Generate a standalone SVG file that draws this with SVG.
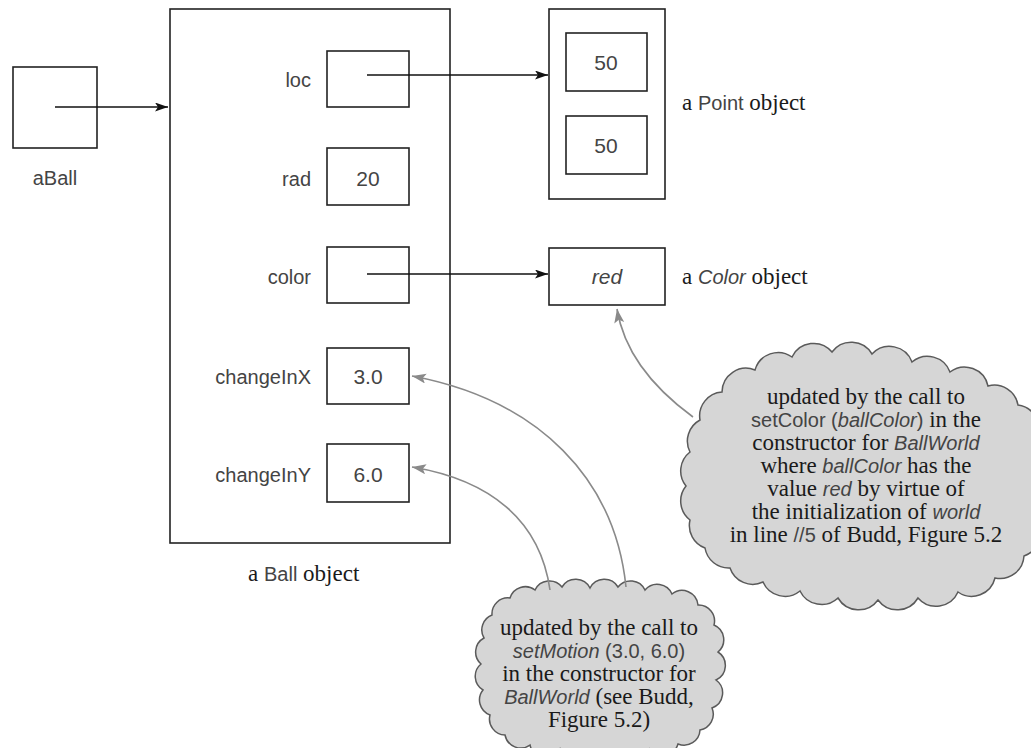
<svg xmlns="http://www.w3.org/2000/svg" width="1031" height="748" viewBox="0 0 1031 748">
<style>
.box{fill:none;stroke:#222;stroke-width:1.6}
.hw{font-family:"Liberation Sans",Arial,sans-serif;font-size:20px;fill:#444}
.hwv{font-family:"Liberation Sans",Arial,sans-serif;font-size:21px;fill:#444;text-anchor:middle}
.tm{font-family:"Liberation Serif","Times New Roman",serif;font-size:23px;fill:#1a1a1a}
.ct{font-family:"Liberation Serif","Times New Roman",serif;font-size:23px;fill:#1a1a1a;text-anchor:middle}
.cd{font-family:"Liberation Sans",Arial,sans-serif;font-size:20px;fill:#444}
.it{font-style:italic}
.blk{fill:none;stroke:#111;stroke-width:1.5}
.gry{fill:none;stroke:#8a8a8a;stroke-width:1.6}
.cloud{fill:#d6d6d6;stroke:#5a5a5a;stroke-width:1.5}
</style>
<defs>
<marker id="ab" markerUnits="userSpaceOnUse" markerWidth="14" markerHeight="10" refX="13" refY="4.5" orient="auto"><path d="M0,0 L13,4.5 L0,9 L3,4.5 z" fill="#111"/></marker>
<marker id="ag" markerUnits="userSpaceOnUse" markerWidth="16" markerHeight="12" refX="14" refY="5" orient="auto"><path d="M0,0 L14,5 L0,10 L3,5 z" fill="#8a8a8a"/></marker>
</defs>

<g id="aBall">
<rect class="box" x="13" y="67" width="84" height="81"/>
<text class="hw" x="55" y="185" text-anchor="middle">aBall</text>
</g>

<g id="ballObject">
<rect class="box" x="170" y="9" width="280" height="534"/>
<text class="tm" x="248" y="581">a <tspan class="cd">Ball</tspan> object</text>
</g>

<g id="field-loc">
<text class="hw" x="311" y="87" text-anchor="end">loc</text>
<rect class="box" x="327" y="51" width="82" height="56"/>
</g>
<g id="field-rad">
<text class="hw" x="311" y="186" text-anchor="end">rad</text>
<rect class="box" x="327" y="148" width="82" height="57"/>
<text class="hwv" x="368" y="186">20</text>
</g>
<g id="field-color">
<text class="hw" x="311" y="284" text-anchor="end">color</text>
<rect class="box" x="327" y="247" width="82" height="56"/>
</g>
<g id="field-changeInX">
<text class="hw" x="311" y="384" text-anchor="end">changeInX</text>
<rect class="box" x="327" y="348" width="82" height="56"/>
<text class="hwv" x="368" y="384">3.0</text>
</g>
<g id="field-changeInY">
<text class="hw" x="311" y="482" text-anchor="end">changeInY</text>
<rect class="box" x="327" y="444" width="82" height="58"/>
<text class="hwv" x="368" y="482">6.0</text>
</g>

<g id="pointObject">
<rect class="box" x="549" y="9" width="116" height="190"/>
<rect class="box" x="566" y="33" width="81" height="58"/>
<text class="hwv" x="606" y="70">50</text>
<rect class="box" x="566" y="116" width="81" height="58"/>
<text class="hwv" x="606" y="153">50</text>
<text class="tm" x="682" y="110">a <tspan class="cd">Point</tspan> object</text>
</g>

<g id="colorObject">
<rect class="box" x="549" y="248" width="116" height="57"/>
<text class="hwv it" x="607" y="284">red</text>
<text class="tm" x="682" y="284">a <tspan class="cd it">Color</tspan> object</text>
</g>

<g id="cloudColor">
<path class="cloud" d="M700,420 A24,24 0 0 1 722,392 A24,24 0 0 1 755,370 A24,24 0 0 1 792,357 A24,24 0 0 1 832,352 A24,24 0 0 1 872,354 A24,24 0 0 1 912,362 A24,24 0 0 1 950,372 A24,24 0 0 1 988,386 A24,24 0 0 1 1018,405 A24,24 0 0 1 1036,440 A24,24 0 0 1 1038,480 A24,24 0 0 1 1036,520 A24,24 0 0 1 1024,556 A24,24 0 0 1 995,578 A24,24 0 0 1 958,592 A24,24 0 0 1 918,598 A24,24 0 0 1 878,600 A24,24 0 0 1 838,598 A24,24 0 0 1 800,591 A24,24 0 0 1 763,582 A24,24 0 0 1 730,568 A24,24 0 0 1 705,548 A24,24 0 0 1 690,520 A24,24 0 0 1 686,486 A24,24 0 0 1 690,452 A24,24 0 0 1 700,420 Z"/>
<text class="ct" x="866" y="404">updated by the call to</text>
<text class="ct" x="866" y="427"><tspan class="cd">setColor (</tspan><tspan class="cd it">ballColor</tspan><tspan class="cd">)</tspan> in the</text>
<text class="ct" x="866" y="450">constructor for <tspan class="cd it">BallWorld</tspan></text>
<text class="ct" x="866" y="473">where <tspan class="cd it">ballColor</tspan> has the</text>
<text class="ct" x="866" y="496">value <tspan class="cd it">red</tspan> by virtue of</text>
<text class="ct" x="866" y="519">the initialization of <tspan class="cd it">world</tspan></text>
<text class="ct" x="866" y="542">in line <tspan class="cd">//5</tspan> of Budd, Figure 5.2</text>
</g>

<g id="cloudMotion">
<path class="cloud" d="M492,615 A16,16 0 0 1 510,598 A16,16 0 0 1 535,590 A16,16 0 0 1 562,587 A16,16 0 0 1 590,588 A16,16 0 0 1 618,587 A16,16 0 0 1 645,590 A16,16 0 0 1 672,594 A16,16 0 0 1 698,605 A16,16 0 0 1 714,625 A16,16 0 0 1 718,652 A16,16 0 0 1 716,680 A16,16 0 0 1 712,708 A16,16 0 0 1 700,730 A16,16 0 0 1 678,744 A16,16 0 0 1 650,749 A16,16 0 0 1 620,750 A16,16 0 0 1 590,750 A16,16 0 0 1 560,749 A16,16 0 0 1 530,745 A16,16 0 0 1 505,735 A16,16 0 0 1 490,715 A16,16 0 0 1 483,690 A16,16 0 0 1 481,664 A16,16 0 0 1 484,638 A16,16 0 0 1 492,615 Z"/>
<text class="ct" x="599" y="635">updated by the call to</text>
<text class="ct" x="599" y="658"><tspan class="cd it">setMotion</tspan><tspan class="cd"> (3.0, 6.0)</tspan></text>
<text class="ct" x="599" y="681">in the constructor for</text>
<text class="ct" x="599" y="704"><tspan class="cd it">BallWorld</tspan> (see Budd,</text>
<text class="ct" x="599" y="727">Figure 5.2)</text>
</g>

<g id="connectors">
<line class="blk" x1="55" y1="107" x2="168" y2="107" marker-end="url(#ab)"/>
<line class="blk" x1="367" y1="75" x2="548" y2="75" marker-end="url(#ab)"/>
<line class="blk" x1="367" y1="274" x2="548" y2="274" marker-end="url(#ab)"/>
<path class="gry" d="M693,417 C652,387 624,352 617,309" marker-end="url(#ag)"/>
<path class="gry" d="M626,587 C615,480 540,400 412,376" marker-end="url(#ag)"/>
<path class="gry" d="M550,590 C540,520 490,480 412,467" marker-end="url(#ag)"/>
</g>
</svg>
